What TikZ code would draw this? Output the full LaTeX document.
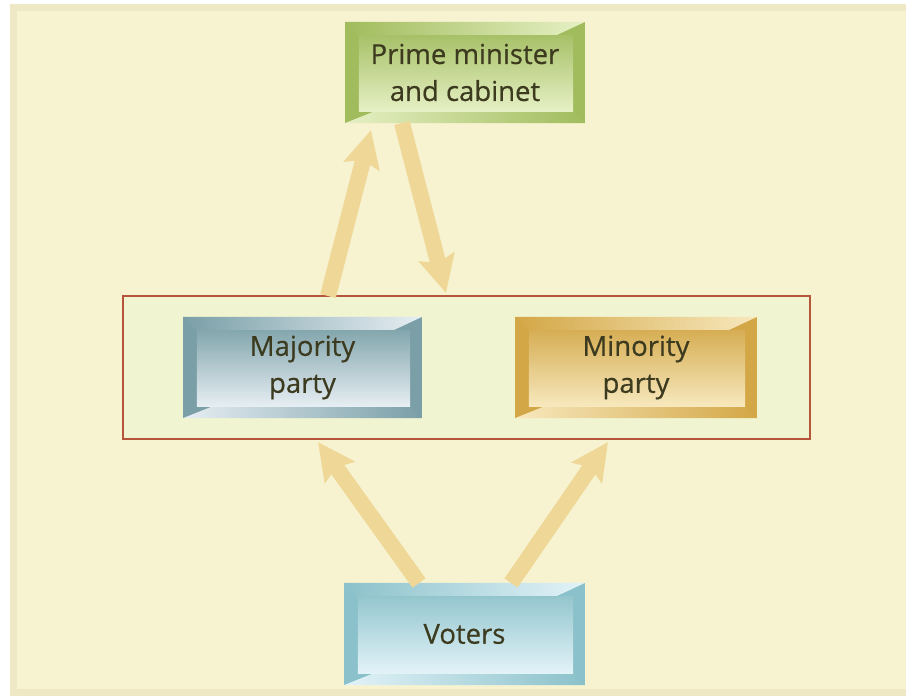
\documentclass[tikz,border=0pt]{standalone}
\usepackage{fontspec}
\setmainfont{Open Sans}
\newfontfamily\platefont[FakeBold=0.5]{Open Sans}
\usetikzlibrary{arrows.meta,calc}
\pgfdeclarelayer{panel}
\pgfdeclarelayer{bevel}
\pgfsetlayers{panel,bevel,main}

\definecolor{band}{HTML}{EEE8C4}
\definecolor{paper}{HTML}{F7F3D0}
\definecolor{frameFill}{HTML}{F1F4D1}
\definecolor{frameLine}{HTML}{B5553C}
\definecolor{arrowTan}{HTML}{EFD897}
\definecolor{ink}{HTML}{3C3A1F}
\definecolor{pmD}{HTML}{A0BC5C}\definecolor{pmL}{HTML}{E6F0C4}
\definecolor{majD}{HTML}{7A9FA7}\definecolor{majL}{HTML}{E6EEF3}
\definecolor{minD}{HTML}{D3A746}\definecolor{minL}{HTML}{F7E8BD}
\definecolor{votD}{HTML}{8BC1CA}\definecolor{votL}{HTML}{E2F3F8}

% bevelled plate behind a text node: #1 node, #2 dark tone, #3 light tone
\newcommand\bevelplate[3]{%
  \begin{pgfonlayer}{bevel}
    \fill[#2] (#1.north west) rectangle (#1.south east);
    \shade[left color=#2, right color=#3]
      (#1.north west) -- (#1.north east) -- ($(#1.north east)+(-30,14)$)
      -- ($(#1.north west)+(14,14)$) -- cycle;
    \shade[left color=#3, right color=#2]
      (#1.south west) -- ($(#1.south west)+(30,-12)$)
      -- ($(#1.south east)+(-12,-12)$) -- (#1.south east) -- cycle;
    \shade[top color=#2!92!white, bottom color=#3]
      ($(#1.north west)+(14,14)$) rectangle ($(#1.south east)+(-12,-12)$);
  \end{pgfonlayer}}

\tikzset{
  plate/.style={inner sep=0pt, text=ink, align=center,
    font=\platefont\fontsize{27.5}{37}\selectfont},
  flow/.style={arrowTan, line width=16pt,
    -{Stealth[length=37pt, width=36pt, inset=6pt]}},
}

\begin{document}
\begin{tikzpicture}[x=1pt, y=-1pt]
  \useasboundingbox (0,0) rectangle (906,696);

  % backdrop panel with its darker rim
  \begin{pgfonlayer}{panel}
    \fill[white] (0,0) rectangle (906,696);
    \fill[band] (10,4) rectangle (906,696);
    \fill[paper] (17,11) rectangle (906,689);
    \draw[frameLine, fill=frameFill, line width=2.5pt] (123,296) rectangle (810,439);
  \end{pgfonlayer}

  % text plates
  \node[plate, minimum width=240pt, minimum height=101pt] (pm) at (465,72.5)
    {Prime minister\\and cabinet};
  \node[plate, minimum width=239pt, minimum height=101pt] (maj) at (302.5,367.5)
    {Majority\\party};
  \node[plate, minimum width=242pt, minimum height=101pt] (min) at (636,367.5)
    {Minority\\party};
  \node[plate, minimum width=241pt, minimum height=102pt] (vot) at (464.5,634)
    {Voters};

  \bevelplate{pm}{pmD}{pmL}
  \bevelplate{maj}{majD}{majL}
  \bevelplate{min}{minD}{minL}
  \bevelplate{vot}{votD}{votL}

  % arrow end points
  \coordinate (upFrom) at (328,296);
  \coordinate (upTo)   at (371,130);
  \coordinate (downFrom) at (402,123);
  \coordinate (downTo)   at (446,293);
  \coordinate (vLeftFrom)  at (419,583);
  \coordinate (vLeftTo)    at (318,442);
  \coordinate (vRightFrom) at (511,583);
  \coordinate (vRightTo)   at (608,442);

  \draw[flow] (upFrom) -- (upTo);
  \draw[flow] (downFrom) -- (downTo);
  \draw[flow] (vLeftFrom) -- (vLeftTo);
  \draw[flow] (vRightFrom) -- (vRightTo);
\end{tikzpicture}
\end{document}
